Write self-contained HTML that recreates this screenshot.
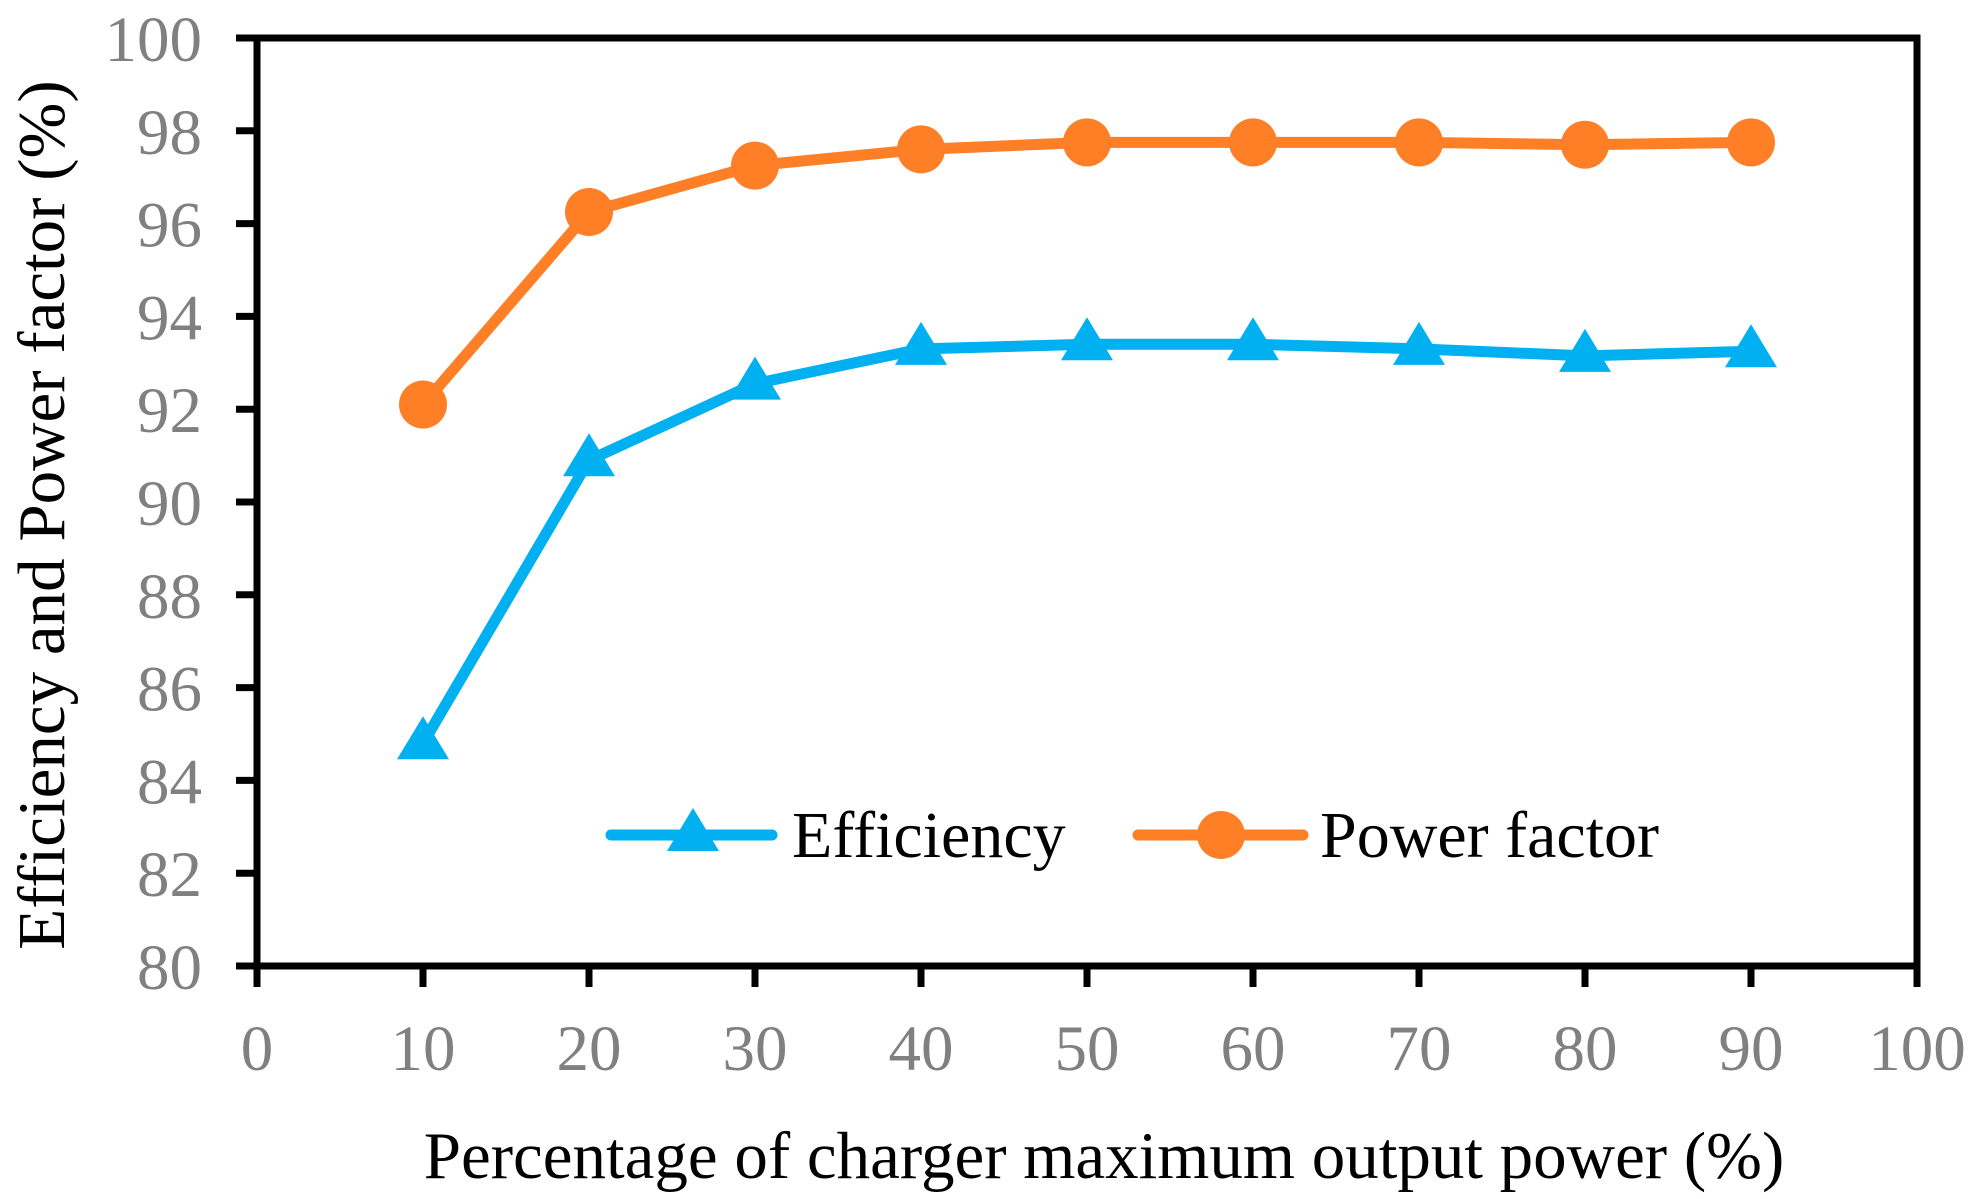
<!DOCTYPE html>
<html><head><meta charset="utf-8"><style>
html,body{margin:0;padding:0;background:#fff}
svg{display:block}
text{font-family:"Liberation Serif",serif}
</style></head><body>
<svg id="chart" width="1977" height="1199" viewBox="0 0 1977 1199" xmlns="http://www.w3.org/2000/svg">
<g id="axes"></g>
<g id="series"></g>
<g id="legend">
 <line x1="611" y1="835" x2="772" y2="835" stroke="#00B0F0" stroke-width="11" stroke-linecap="round"/>
 <polygon points="693,808 719,851 667,851" fill="#00B0F0"/>
 <text x="792" y="857" font-size="66" fill="#000">Efficiency</text>
 <line x1="1138" y1="835" x2="1303" y2="835" stroke="#FF7F27" stroke-width="11" stroke-linecap="round"/>
 <circle cx="1221" cy="835" r="24" fill="#FF7F27"/>
 <text x="1320" y="857" font-size="66" fill="#000">Power factor</text>
</g>
<text x="1104" y="1178" font-size="67" text-anchor="middle" fill="#000">Percentage of charger maximum output power (%)</text>
<text transform="translate(64,515) rotate(-90)" font-size="67" text-anchor="middle" fill="#000">Efficiency and Power factor (%)</text>
</svg>
<script>
const categories = [10,20,30,40,50,60,70,80,90];
const efficiency = [84.8,90.9,92.55,93.3,93.4,93.4,93.3,93.15,93.25];
const powerFactor = [92.1,96.25,97.25,97.6,97.75,97.75,97.75,97.7,97.75];
const xTicks = [0,10,20,30,40,50,60,70,80,90,100];
const yTicks = [80,82,84,86,88,90,92,94,96,98,100];

const NS='http://www.w3.org/2000/svg';
const L=257,R=1917,T=38,B=966;
const xs=v=>L+(v-0)/(100-0)*(R-L);
const ys=v=>B-(v-80)/(100-80)*(B-T);
function mk(tag,attrs,parent){const e=document.createElementNS(NS,tag);for(const k in attrs)e.setAttribute(k,attrs[k]);parent.appendChild(e);return e;}
const ax=document.getElementById('axes'), se=document.getElementById('series');

let frame=mk('rect',{x:L,y:T,width:R-L,height:B-T,fill:'none',stroke:'#000','stroke-width':7},ax);



yTicks.forEach(v=>{
 const y=ys(v);
 const t=mk('line',{x1:L-21,x2:L,y1:y,y2:y,stroke:'#000','stroke-width':7},ax);
 
 
 const tx=mk('text',{x:L-55,y:y+23,'font-size':65,'text-anchor':'end',fill:'#808080'},ax);
 tx.textContent=v;
 
 
});
xTicks.forEach(v=>{
 const x=xs(v);
 const t=mk('line',{x1:x,x2:x,y1:B,y2:B+21,stroke:'#000','stroke-width':7},ax);
 
 
 const tx=mk('text',{x:x,y:1070,'font-size':65,'text-anchor':'middle',fill:'#808080'},ax);
 tx.textContent=v;
 
 
});

function drawSeries(vals,color,name,marker){
 const pts=categories.map((c,i)=>xs(c)+','+ys(vals[i])).join(' ');
 const pl=mk('polyline',{points:pts,fill:'none',stroke:color,'stroke-width':11,'stroke-linejoin':'round'},se);
 
 
 categories.forEach((c,i)=>{
  const x=xs(c),y=ys(vals[i]);
  let m;
  if(marker==='circle') m=mk('circle',{cx:x,cy:y,r:24,fill:color},se);
  else m=mk('polygon',{points:`${x},${y-27} ${x+26},${y+16} ${x-26},${y+16}`,fill:color},se);
  
  
 });
}
drawSeries(efficiency,'#00B0F0','efficiency','triangle');
drawSeries(powerFactor,'#FF7F27','power-factor','circle');
</script>
</body></html>
